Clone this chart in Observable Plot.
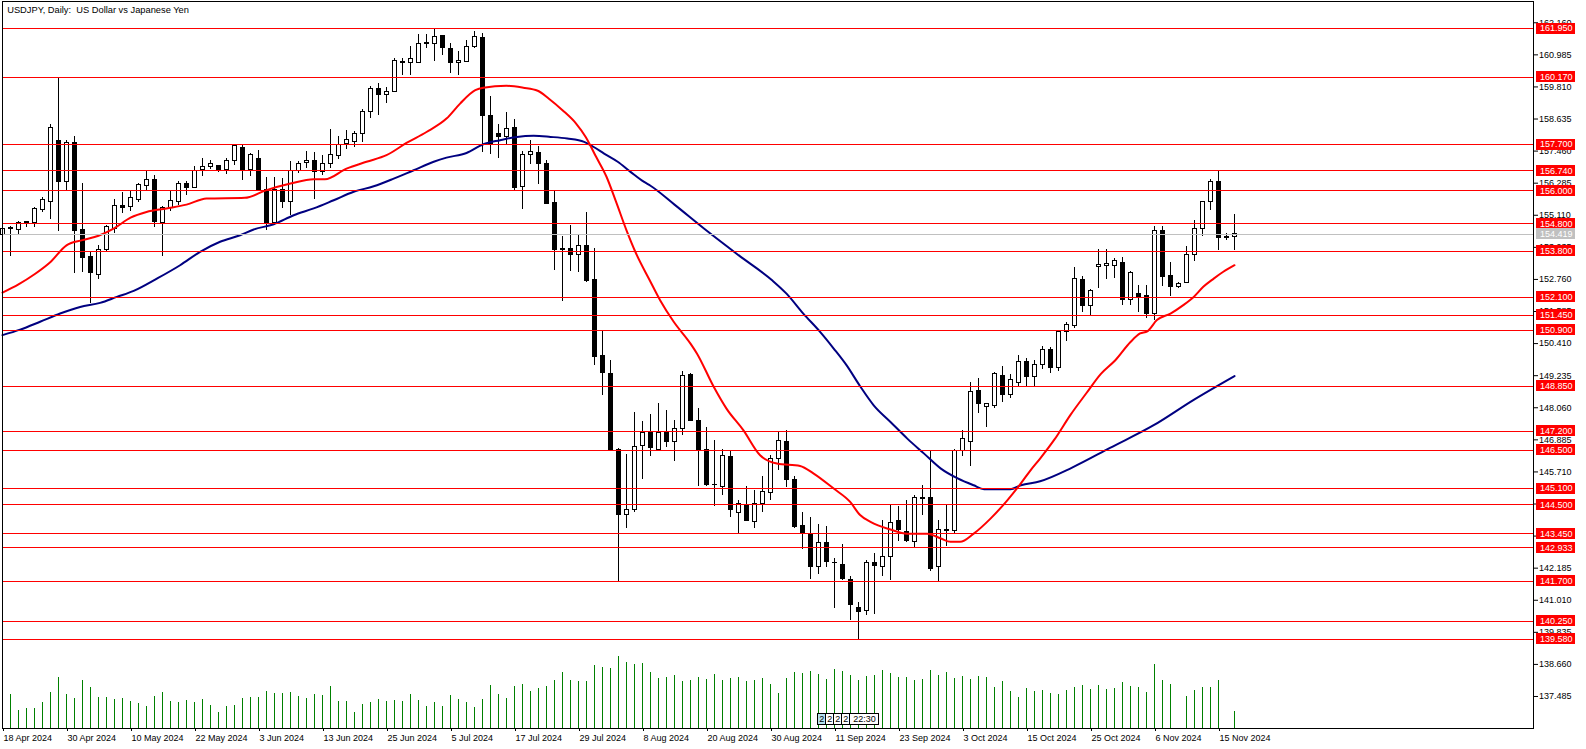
<!DOCTYPE html>
<html><head><meta charset="utf-8">
<script src="https://cdn.jsdelivr.net/npm/d3@7"></script>
<script src="https://cdn.jsdelivr.net/npm/@observablehq/plot@0.6"></script>
<style>
html,body{margin:0;padding:0;background:#fff;}
#chart{position:relative;width:1586px;height:749px;overflow:hidden;}
#chart svg{position:absolute;left:0;top:0;}
</style></head><body><div id="chart"></div>
<script>
const title = "USDJPY, Daily:  US Dollar vs Japanese Yen";

const opens = [154.38,154.62,154.56,154.81,154.83,155.30,155.58,157.82,156.31,157.77,
154.56,153.59,152.94,153.83,154.62,155.44,155.42,155.66,156.20,156.39,
154.83,155.36,155.58,156.25,156.11,156.76,156.86,156.91,156.78,157.11,
157.59,156.76,157.16,156.03,154.83,156.05,155.60,156.72,157.02,157.09,
156.69,156.97,157.27,157.72,157.80,158.07,158.90,159.75,159.53,159.63,
160.70,160.70,160.70,161.39,161.40,161.67,161.19,160.67,160.73,161.28,
161.62,158.74,158.07,157.98,158.32,156.13,157.33,157.39,157.00,155.55,
153.83,153.89,153.64,154.00,152.73,149.95,149.31,146.53,144.12,144.31,
146.65,147.12,146.53,147.15,146.81,147.30,149.25,147.57,146.51,145.23,
145.14,146.24,144.19,144.49,143.89,144.55,144.92,146.20,146.82,145.43,
143.72,143.43,142.21,143.09,142.38,142.29,141.77,140.71,140.62,142.39,
142.23,142.61,143.93,143.50,143.16,144.76,144.74,142.21,143.60,143.53,
146.46,146.79,148.69,148.10,148.14,149.24,148.51,148.98,149.72,149.17,
149.62,150.19,149.52,150.82,151.07,152.73,151.78,153.20,153.26,153.26,
153.38,152.02,152.22,152.17,151.51,154.55,152.88,152.50,152.63,153.64,
154.59,155.58,156.31,154.30,154.30];

const highs = [154.72,154.70,154.87,154.89,155.38,155.75,158.45,160.17,157.83,158.01,
156.27,153.77,154.01,154.75,155.70,155.94,155.97,156.27,156.74,156.55,
155.42,155.99,156.33,156.33,156.88,157.19,157.13,156.94,157.19,157.71,
157.70,157.37,157.47,156.49,156.49,156.45,157.09,157.09,157.43,157.40,
157.31,158.26,157.98,158.23,158.16,158.98,159.84,159.93,159.78,160.85,
160.85,161.28,161.73,161.73,161.95,161.70,161.40,161.12,161.52,161.83,
161.77,159.47,158.45,158.88,158.63,157.43,157.86,157.64,157.13,155.99,
154.34,154.75,154.38,155.22,153.89,150.88,149.80,146.57,146.36,147.90,
147.57,147.82,148.22,147.97,147.60,149.40,149.31,148.04,147.35,146.87,
146.54,146.47,144.67,145.19,145.04,145.53,146.30,147.18,147.21,145.53,
144.22,144.04,143.80,143.70,142.54,143.06,141.89,140.91,142.48,142.73,
143.94,144.49,144.46,144.67,144.86,145.22,146.47,143.94,144.49,146.53,
147.24,149.00,149.13,148.22,149.35,149.58,149.29,149.99,149.86,149.78,
150.32,150.25,150.86,151.18,153.20,152.85,152.39,153.87,153.87,153.51,
153.56,153.04,152.55,152.55,154.71,154.71,153.38,152.66,153.98,154.90,
155.63,156.42,156.74,154.44,155.15];

const lows = [154.10,153.59,154.38,154.68,154.68,155.20,154.95,154.50,156.03,152.99,
153.01,151.88,152.76,153.77,154.46,155.17,155.23,155.56,156.03,154.68,
153.59,155.23,155.48,155.84,156.09,156.52,156.80,156.66,156.61,156.92,
156.37,156.52,155.97,154.56,154.75,155.36,155.11,156.64,156.82,155.70,
156.58,156.82,157.15,157.52,157.58,157.76,158.65,158.77,159.20,159.60,
160.24,160.24,160.68,161.22,160.75,160.95,160.30,160.24,160.70,161.20,
157.40,157.35,157.18,157.65,156.03,155.33,156.96,156.25,155.50,153.10,
151.94,153.06,153.00,152.63,149.62,148.50,146.45,141.70,143.63,144.22,
145.43,146.26,146.48,146.59,146.08,147.04,147.54,145.16,145.19,144.43,
144.83,144.03,143.45,143.88,143.64,144.22,144.65,145.75,145.14,143.65,
142.87,141.77,141.94,142.21,140.71,141.72,140.28,139.58,140.45,140.47,
141.87,141.72,143.15,143.11,142.89,144.10,142.05,141.66,142.97,143.40,
146.26,145.91,147.84,147.33,148.02,148.24,148.39,148.85,148.85,148.85,
149.45,149.30,149.40,150.47,150.95,151.54,151.45,152.42,152.76,152.79,
151.82,151.82,151.54,151.33,151.27,152.49,152.12,152.43,152.60,153.40,
154.32,155.30,153.83,154.17,153.83];

const closes = [154.62,154.65,154.84,154.87,155.33,155.66,158.29,156.31,157.77,154.54,
153.56,152.98,153.83,154.69,155.44,155.39,155.76,156.21,156.39,154.87,
155.36,155.62,156.25,156.11,156.74,156.88,156.97,156.76,157.11,157.64,
156.76,157.30,156.03,154.83,156.05,155.60,156.74,157.00,157.09,156.69,
156.97,157.31,157.70,157.85,158.09,158.90,159.75,159.53,159.63,160.76,
160.73,160.85,161.40,161.41,161.64,161.22,160.67,160.76,161.28,161.64,
158.75,157.71,157.98,158.26,156.11,157.33,157.44,156.98,155.53,153.83,
153.89,153.65,154.00,152.71,149.92,149.34,146.48,144.15,144.31,146.64,
147.15,146.60,147.15,146.81,147.29,149.23,147.57,146.51,145.24,145.22,
146.29,144.33,144.53,143.92,144.55,144.96,146.20,146.85,145.43,143.70,
143.42,142.23,143.12,142.42,142.39,141.80,140.83,140.59,142.39,142.27,
142.61,143.83,143.59,143.19,144.74,144.73,142.14,143.60,143.53,146.46,
146.90,148.62,148.18,148.18,149.28,148.53,149.06,149.75,149.19,149.62,
150.19,149.52,150.83,151.08,152.77,151.79,152.32,153.28,153.34,153.42,
152.02,152.98,152.12,151.50,154.55,152.85,152.49,152.61,153.64,154.59,
155.58,156.31,154.28,154.29,154.42];

// tick volume (relative units)
const volumes = [null,103,53,61,61,77,107,152,101,91,
145,122,94,94,88,91,82,74,67,95,
109,82,77,85,79,88,70,49,67,70,
91,94,94,112,106,106,109,97,91,103,
100,127,82,82,49,73,79,88,82,85,
82,103,85,67,79,67,100,88,79,64,
88,130,103,91,127,133,112,121,127,145,
169,145,142,142,190,184,181,217,199,193,
196,169,151,154,160,142,145,154,148,163,
145,151,154,142,145,151,133,106,151,169,
166,172,163,148,178,172,160,145,157,160,
175,166,154,154,145,148,175,160,169,151,
157,148,157,154,124,142,112,94,121,112,
115,106,103,115,124,130,118,130,118,121,
139,127,124,109,193,145,133,null,97,115,
124,124,145,null,52];

// moving averages: [bar, value]
const maFast = [[0,152.28],[2,152.58],[4,152.95],[6,153.40],[8,154.01],[10,154.20],[12,154.36],[14,154.64],[16,155.02],[18,155.23],[20.5,155.36],[23,155.50],[25.5,155.72],[30.3,155.75],[33,156.03],[36,156.27],[38.9,156.43],[40.3,156.43],[43,156.82],[45.5,157.07],[48,157.31],[50.5,157.76],[53,158.16],[55.5,158.65],[57.2,159.20],[59.1,159.69],[60.1,159.78],[63,159.85],[65.1,159.78],[66.9,159.67],[68.3,159.38],[70,158.96],[71.7,158.47],[72.9,157.98],[74.2,157.25],[75.5,156.52],[76.7,155.60],[78,154.56],[79.2,153.71],[80.9,152.73],[82.2,152.00],[83.9,151.21],[86,150.41],[86.8,150.05],[88.9,148.83],[90.5,148.03],[92.6,147.24],[94.7,146.32],[96.8,146.02],[99.7,145.93],[101.4,145.65],[103.9,145.10],[105.96,144.61],[107.2,144.13],[108.5,143.88],[111,143.60],[113.1,143.45],[115.6,143.45],[117.3,143.27],[118.5,143.15],[119.7,143.15],[121.4,143.45],[123.5,144.00],[125.6,144.67],[127.3,145.29],[128.5,145.77],[129.7,146.20],[131.5,146.90],[133.5,147.80],[135.5,148.60],[137.3,149.30],[139.1,149.80],[141,150.47],[142.2,150.78],[143.1,150.86],[144.3,151.27],[146,151.51],[147.6,151.82],[148.9,152.12],[150.1,152.49],[151.4,152.79],[152.6,153.04],[154,153.28]];

const maSlow = [[0,150.72],[2.2,150.92],[4.7,151.21],[7.2,151.51],[9.7,151.75],[12.2,151.90],[14.3,152.12],[16.4,152.34],[19.3,152.79],[22.2,153.28],[24.7,153.77],[27.2,154.14],[29.7,154.38],[31.4,154.59],[33.9,154.78],[36.4,155.11],[38.9,155.36],[41.4,155.66],[43.9,155.97],[46.4,156.17],[48.9,156.45],[51.4,156.76],[53.9,157.07],[55.5,157.22],[58,157.39],[60.1,157.71],[62.2,157.86],[64.3,157.98],[66.4,158.02],[68.5,157.98],[70.6,157.92],[72.7,157.80],[73.9,157.61],[75.2,157.37],[76.9,157.07],[78.5,156.70],[80.2,156.33],[81,156.19],[84,155.50],[88,154.55],[92,153.65],[96.2,152.73],[98,152.24],[100.1,151.51],[102.2,150.84],[103.9,150.23],[105.5,149.62],[107.2,148.85],[108.9,148.15],[111,147.54],[113.1,146.93],[115.2,146.38],[117.3,145.83],[119.4,145.47],[121.4,145.22],[122.7,145.08],[126,145.08],[127.3,145.22],[129.7,145.37],[133.7,145.87],[138.5,146.60],[143.9,147.42],[148.9,148.35],[154,149.22]];

const levels = [161.950,160.170,157.700,156.740,156.000,154.800,153.800,152.100,151.450,150.900,148.850,147.200,146.500,145.100,144.500,143.450,142.933,141.700,140.250,139.580];
const bidPrice = 154.419;

const priceTicks = [162.160,160.985,159.810,158.635,157.460,156.285,155.110,153.935,152.760,151.585,150.410,149.235,148.060,146.885,145.710,144.535,143.360,142.185,141.010,139.835,138.660,137.485];

const dateTickBars = [0,8,16,24,32,40,48,56,64,72,80,88,96,104,112,120,128,136,144,152];
const dateTickLabels = ["18 Apr 2024","30 Apr 2024","10 May 2024","22 May 2024","3 Jun 2024","13 Jun 2024","25 Jun 2024","5 Jul 2024","17 Jul 2024","29 Jul 2024","8 Aug 2024","20 Aug 2024","30 Aug 2024","11 Sep 2024","23 Sep 2024","3 Oct 2024","15 Oct 2024","25 Oct 2024","6 Nov 2024","15 Nov 2024"];

const eventLabels = ["2","2","2","2","22:30"];
const eventFrom = [101.9,102.9,103.9,104.9,105.9];
const eventTo = [102.9,103.9,104.9,105.9,109.6];

// ---------- build ----------
const W = 1586, H = 749;
const XMAX = 191.375;                 // right edge of the price pane, in bars
const PX_PER_PRICE = 727 / (162.939 - 136.313);
const xOpts = {domain: [0, XMAX]};
const margins = {marginLeft: 2, marginRight: 53, marginTop: 1, marginBottom: 21};
const FONT = "'Liberation Sans', Arial, sans-serif";

const bars = opens.map((o, i) => ({i, open: o, high: highs[i], low: lows[i], close: closes[i]}));
const vols = volumes.map((v, i) => ({i, v})).filter(d => d.v != null);
const events = eventLabels.map((t, k) => ({t, a: eventFrom[k], b: eventTo[k], first: k === 0}));
const fmt = d => d.toFixed(3);

// label box geometry (bars / price units derived from pixel sizes)
const boxX1 = () => XMAX + 3 / 8;
const boxX2 = () => XMAX + 42 / 8;
const halfH = 5.5 / PX_PER_PRICE;

const price = Plot.plot({
  width: W, height: H, ...margins,
  x: {...xOpts, axis: null},
  y: {domain: [136.313, 162.939], axis: null},
  style: {fontFamily: FONT, fontSize: "9px", background: "#fff", overflow: "visible", color: "#000"},
  marks: [
    Plot.ruleX(bars, {x: "i", y1: "low", y2: "high", stroke: "#000", strokeWidth: 1, shapeRendering: "crispEdges"}),
    Plot.rect(bars, {x1: d => d.i - 0.25, x2: d => d.i + 0.25, y1: "open", y2: "close",
      fill: d => d.close >= d.open ? "#fff" : "#000", stroke: "#000", strokeWidth: 1, shapeRendering: "crispEdges"}),
    Plot.line(maSlow, {x: d => d[0], y: d => d[1], stroke: "#000080", strokeWidth: 2, curve: "monotone-x"}),
    Plot.line(maFast, {x: d => d[0], y: d => d[1], stroke: "#ff0000", strokeWidth: 2, curve: "monotone-x"}),
    Plot.ruleY([bidPrice], {stroke: "#c0c0c0", strokeWidth: 1, shapeRendering: "crispEdges"}),
    Plot.ruleY(levels, {stroke: "#ff0000", strokeWidth: 1, shapeRendering: "crispEdges"}),
    Plot.frame({stroke: "#000", shapeRendering: "crispEdges"}),
    Plot.axisY(priceTicks, {anchor: "right", tickSize: 4, tickPadding: 1.5, tickFormat: fmt, label: null, fontSize: 9, fill: "#000", stroke: "#000"}),
    Plot.axisX(dateTickBars, {anchor: "bottom", tickSize: 3, tickPadding: 3, textAnchor: "start", dx: 1,
      tickFormat: (d) => dateTickLabels[dateTickBars.indexOf(d)], label: null, fontSize: 9}),
    // label boxes on the price scale
    Plot.rect(levels, {x1: boxX1, x2: boxX2, y1: d => d - halfH, y2: d => d + halfH, fill: "#ff0000", shapeRendering: "crispEdges"}),
    Plot.rect([bidPrice], {x1: boxX1, x2: boxX2, y1: d => d - halfH, y2: d => d + halfH, fill: "#c0c0c0", shapeRendering: "crispEdges"}),
    Plot.text(levels, {y: d => d, text: d => fmt(d), frameAnchor: "right", dx: 6.5, textAnchor: "start", fill: "#fff", fontSize: 9}),
    Plot.text([bidPrice], {y: d => d, text: d => fmt(d), frameAnchor: "right", dx: 6.5, textAnchor: "start", fill: "#fff", fontSize: 9}),
    Plot.text([title], {frameAnchor: "top-left", dx: 4.7, dy: 4.5, textAnchor: "start", lineAnchor: "top", fontSize: 9.3, fill: "#000"})
  ]
});

const volume = Plot.plot({
  width: W, height: H, ...margins,
  x: {...xOpts, axis: null},
  y: {domain: [0, 2181], axis: null},
  style: {fontFamily: FONT, fontSize: "9px", background: "transparent", overflow: "visible"},
  marks: [
    Plot.ruleX(vols, {x: "i", y1: 0, y2: "v", stroke: "#008000", strokeWidth: 1, shapeRendering: "crispEdges"}),
    Plot.rect(events, {x1: "a", x2: "b", y1: 12, y2: 45, fill: d => d.first ? "#b4e1ee" : "#fff", stroke: "#000", strokeWidth: 1, shapeRendering: "crispEdges"}),
    Plot.text(events, {x: d => (d.a + d.b) / 2, y: 28.5, text: "t", fontSize: 9, fill: "#000"})
  ]
});

const chart = document.getElementById("chart");
chart.appendChild(price);
chart.appendChild(volume);
</script>
</body></html>
